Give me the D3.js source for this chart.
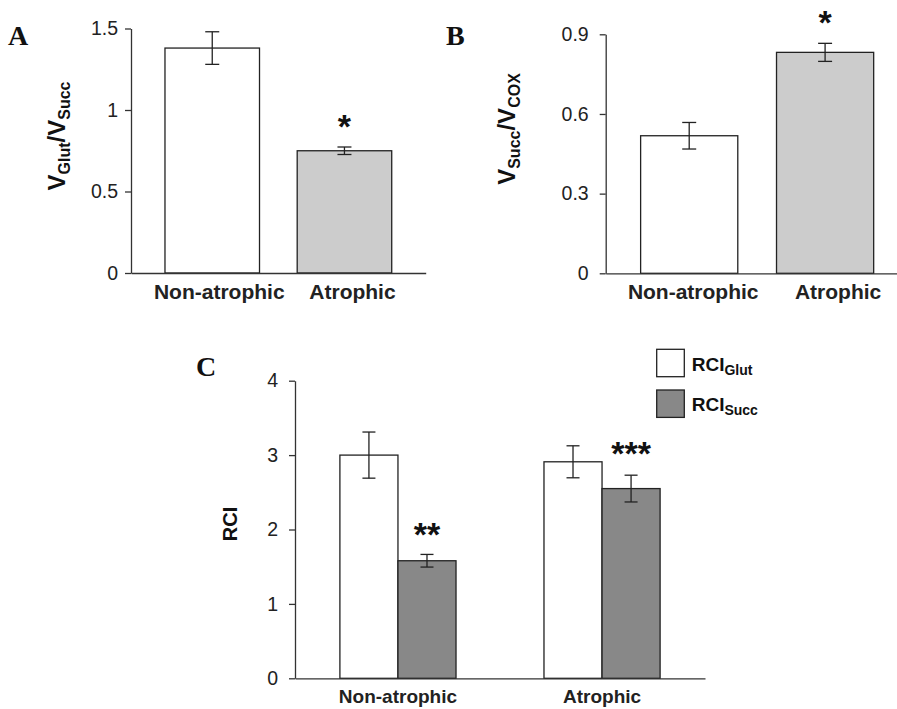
<!DOCTYPE html>
<html lang="en">
<head>
    <meta charset="UTF-8">
    <title>Respiration ratios - Non-atrophic vs Atrophic</title>
    <script src="https://d3js.org/d3.v7.min.js"></script>
    <style>
        body {
            margin: 0;
            background: #fff;
            font-family: "Liberation Sans", Arial, sans-serif;
        }
        .axis path, .axis line { stroke: #333; stroke-width: 1.3; }
        .axis text { fill: #222; font-family: "Liberation Sans", Arial, sans-serif; }
    </style>
</head>
<body>
<div id="chart"></div>
<script>
    // values
    const categories = ["Non-atrophic", "Atrophic"];

    const glutSuccMean = [1.38, 0.75];
    const glutSuccErr = [0.10, 0.023];
    const glutSuccStars = ["", "*"];
    const ticksA = [0, 0.5, 1, 1.5];

    const succCoxMean = [0.518, 0.832];
    const succCoxErr = [0.05, 0.034];
    const succCoxStars = ["", "*"];
    const ticksB = [0, 0.3, 0.6, 0.9];

    const series = ["RCIGlut", "RCISucc"];
    const rciGlutMean = [3.0, 2.91];
    const rciGlutErr = [0.31, 0.215];
    const rciSuccMean = [1.58, 2.55];
    const rciSuccErr = [0.085, 0.18];
    const rciSuccStars = ["**", "***"];
    const ticksC = [0, 1, 2, 3, 4];

    const width = 897, height = 709;
    const svg = d3.select("#chart").append("svg")
        .attr("width", width)
        .attr("height", height);

    const dark = "#222";

    function panelLabel(txt, x, y) {
        svg.append("text")
            .attr("x", x).attr("y", y)
            .attr("font-family", "'Liberation Serif', 'Times New Roman', serif")
            .attr("font-weight", "bold")
            .attr("font-size", 28)
            .attr("fill", "#111")
            .text(txt);
    }

    // rotated title made of main / subscript parts
    function yTitle(parts, x, y, big, small) {
        const t = svg.append("text")
            .attr("transform", `translate(${x},${y}) rotate(-90)`)
            .attr("text-anchor", "middle")
            .attr("font-weight", "bold")
            .attr("fill", "#111");
        let shifted = false;
        parts.forEach(p => {
            const sub = p[1];
            let dy = 0;
            if (sub && !shifted) { dy = 5; shifted = true; }
            else if (!sub && shifted) { dy = -5; shifted = false; }
            t.append("tspan")
                .attr("font-size", sub ? small : big)
                .attr("dy", dy)
                .text(p[0]);
        });
    }

    function star(txt, x, yCenter, size) {
        svg.append("text")
            .attr("x", x).attr("y", yCenter + size * 0.47)
            .attr("text-anchor", "middle")
            .attr("font-size", size)
            .attr("font-weight", "bold")
            .attr("fill", "#111")
            .text(txt);
    }

    function errorBar(g, cx, yTop, yBot, cap) {
        g.append("line").attr("x1", cx).attr("x2", cx).attr("y1", yTop).attr("y2", yBot);
        g.append("line").attr("x1", cx - cap).attr("x2", cx + cap).attr("y1", yTop).attr("y2", yTop);
        g.append("line").attr("x1", cx - cap).attr("x2", cx + cap).attr("y1", yBot).attr("y2", yBot);
    }

    function simplePanel(opt) {
        const y = d3.scaleLinear().domain(opt.domain).range(opt.yRange);
        const x = d3.scaleBand().domain(categories).range(opt.xRange)
            .paddingInner(0.285).paddingOuter(0.257);

        const g = svg.append("g");

        g.selectAll("rect")
            .data(categories)
            .enter().append("rect")
            .attr("x", d => x(d))
            .attr("y", (d, i) => y(opt.mean[i]))
            .attr("width", x.bandwidth())
            .attr("height", (d, i) => y(0) - y(opt.mean[i]))
            .attr("fill", (d, i) => opt.fills[i])
            .attr("stroke", dark)
            .attr("stroke-width", 1.3);

        const eg = g.append("g").attr("stroke", dark).attr("stroke-width", 1.3);
        categories.forEach((c, i) => {
            const cx = x(c) + x.bandwidth() / 2;
            errorBar(eg, cx, y(opt.mean[i] + opt.err[i]), y(opt.mean[i] - opt.err[i]), 7);
            if (opt.stars[i]) star(opt.stars[i], cx, opt.starY, 34);
        });

        svg.append("g").attr("class", "axis")
            .attr("transform", `translate(${opt.xRange[0]},0)`)
            .call(d3.axisLeft(y).tickValues(opt.ticks).tickFormat(d3.format("~g"))
                .tickSize(6).tickSizeOuter(0).tickPadding(opt.tickPad))
            .call(a => a.selectAll("text").attr("font-size", 19.5));

        svg.append("g").attr("class", "axis")
            .attr("transform", `translate(0,${y(0)})`)
            .call(d3.axisBottom(x).tickSize(0).tickSizeOuter(0).tickPadding(11))
            .call(a => a.selectAll("text").attr("font-size", 21).attr("font-weight", "bold")
                .attr("fill", "#111").attr("dx", (d, i) => opt.labelShift[i]));
    }

    // panel A
    panelLabel("A", 8, 45);
    simplePanel({
        domain: [0, 1.5], yRange: [273, 28.5], xRange: [131, 425.7],
        mean: glutSuccMean, err: glutSuccErr, stars: glutSuccStars, ticks: ticksA,
        fills: ["#ffffff", "#cccccc"], starY: 122.5, tickPad: 7, labelShift: [7, 8]
    });
    yTitle([["V", false], ["Glut", true], ["/", false], ["V", false], ["Succ", true]], 65, 136, 24, 16);

    // panel B
    panelLabel("B", 446, 45);
    simplePanel({
        domain: [0, 0.9], yRange: [273.3, 34.3], xRange: [605.7, 908.6],
        mean: succCoxMean, err: succCoxErr, stars: succCoxStars, ticks: ticksB,
        fills: ["#ffffff", "#cccccc"], starY: 18.3, tickPad: 11, labelShift: [4, 13]
    });
    yTitle([["V", false], ["Succ", true], ["/", false], ["V", false], ["COX", true]], 515, 129, 24, 16);

    // panel C
    panelLabel("C", 196, 376);
    const yC = d3.scaleLinear().domain([0, 4]).range([678.3, 380.7]);
    const xC = d3.scaleBand().domain(categories).range([295, 705])
        .paddingInner(0.431).paddingOuter(0.22);
    const xSub = d3.scaleBand().domain(series).range([0, xC.bandwidth()]);
    const cFills = ["#ffffff", "#888888"];
    const cMeans = [rciGlutMean, rciSuccMean];
    const cErrs = [rciGlutErr, rciSuccErr];

    const gc = svg.append("g");
    categories.forEach((c, i) => {
        series.forEach((s, j) => {
            gc.append("rect")
                .attr("x", xC(c) + xSub(s))
                .attr("y", yC(cMeans[j][i]))
                .attr("width", xSub.bandwidth())
                .attr("height", yC(0) - yC(cMeans[j][i]))
                .attr("fill", cFills[j])
                .attr("stroke", dark)
                .attr("stroke-width", 1.3);
        });
    });
    const egc = gc.append("g").attr("stroke", dark).attr("stroke-width", 1.3);
    categories.forEach((c, i) => {
        series.forEach((s, j) => {
            const cx = xC(c) + xSub(s) + xSub.bandwidth() / 2;
            errorBar(egc, cx, yC(cMeans[j][i] + cErrs[j][i]), yC(cMeans[j][i] - cErrs[j][i]), 6.5);
        });
        const cx = xC(c) + xSub("RCISucc") + xSub.bandwidth() / 2;
        star(rciSuccStars[i], cx, i === 0 ? 529.7 : 449.5, 34);
    });

    svg.append("g").attr("class", "axis")
        .attr("transform", "translate(295,0)")
        .call(d3.axisLeft(yC).tickValues(ticksC).tickFormat(d3.format("~g"))
            .tickSize(6).tickSizeOuter(0).tickPadding(11))
        .call(a => a.selectAll("text").attr("font-size", 19.5));
    svg.append("g").attr("class", "axis")
        .attr("transform", `translate(0,${yC(0)})`)
        .call(d3.axisBottom(xC).tickSize(0).tickSizeOuter(0).tickPadding(11))
        .call(a => a.selectAll("text").attr("font-size", 19).attr("font-weight", "bold").attr("fill", "#111"));

    svg.append("text")
        .attr("transform", "translate(236.5,524) rotate(-90)")
        .attr("text-anchor", "middle")
        .attr("font-weight", "bold")
        .attr("font-size", 20)
        .attr("fill", "#111")
        .text("RCI");

    // legend
    const legend = svg.append("g").attr("transform", "translate(656.7,349.3)");
    [["Glut", cFills[0]], ["Succ", cFills[1]]].forEach((d, i) => {
        const row = legend.append("g").attr("transform", `translate(0,${i * 40.7})`);
        row.append("rect")
            .attr("width", 27.6).attr("height", 27.4)
            .attr("fill", d[1]).attr("stroke", dark).attr("stroke-width", 1.3);
        const t = row.append("text")
            .attr("x", 35).attr("y", 21.4)
            .attr("font-weight", "bold")
            .attr("fill", "#111");
        t.append("tspan").attr("font-size", 19).text("RCI");
        t.append("tspan").attr("font-size", 14).attr("dy", 4).text(d[0]);
    });
</script>
</body>
</html>
